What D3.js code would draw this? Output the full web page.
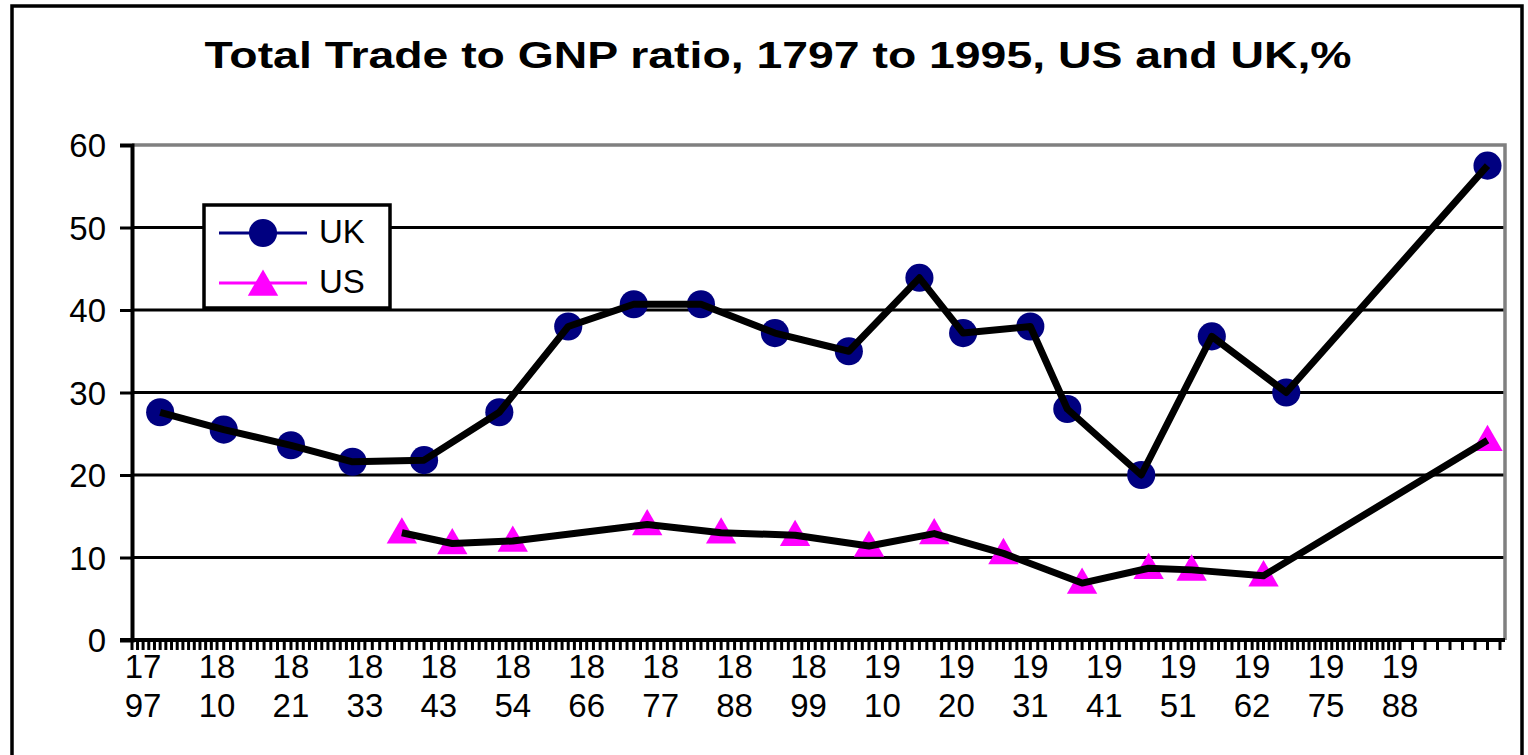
<!DOCTYPE html>
<html>
<head>
<meta charset="utf-8">
<script src="https://cdnjs.cloudflare.com/ajax/libs/d3/7.8.5/d3.min.js"></script>
<style>
  body { margin: 0; background: #fff; }
  svg { display: block; }
  text { font-family: "Liberation Sans", Arial, sans-serif; fill: #000; }
</style>
</head>
<body>
<div id="chart"></div>
<script>
// years that carry a label on the category axis
var tickYears = [1797, 1810, 1821, 1833, 1843, 1854, 1866, 1877, 1888, 1899,
                 1910, 1920, 1931, 1941, 1951, 1962, 1975, 1988];
var yTicks = [0, 10, 20, 30, 40, 50, 60];

// UK total trade / GNP, %
var ukYears  = [1800, 1811, 1821, 1831, 1841, 1852, 1863, 1873, 1883, 1894,
                1905, 1915, 1921, 1931, 1936, 1946, 1956, 1968, 1995];
var ukValues = [27.6, 25.5, 23.6, 21.6, 21.8, 27.6, 38, 40.7, 40.7, 37.2,
                35, 43.9, 37.2, 38, 28, 20, 36.8, 30, 57.5];

// US total trade / GNP, %
var usYears  = [1838, 1845, 1854, 1875, 1886, 1897, 1908, 1917, 1927, 1938,
                1947, 1953, 1964, 1995];
var usValues = [13, 11.7, 12, 14, 13, 12.7, 11.4, 12.9, 10.5, 6.9,
                8.7, 8.5, 7.8, 24.2];

var width = 1528, height = 755;
var margin = {left: 132, top: 145, right: 23, bottom: 115};
var plotW = width - margin.left - margin.right,
    plotH = height - margin.top - margin.bottom;

var svg = d3.select("#chart").append("svg")
    .attr("width", width)
    .attr("height", height);

svg.append("rect").attr("width", width).attr("height", height).attr("fill", "#fff");

// outer frame (bottom edge runs off the picture)
svg.append("rect")
    .attr("x", 12).attr("y", 6)
    .attr("width", 1510).attr("height", 800)
    .attr("fill", "none").attr("stroke", "#000").attr("stroke-width", 3.5);

svg.append("text")
    .attr("x", 778).attr("y", 68)
    .attr("text-anchor", "middle")
    .attr("font-size", 37).attr("font-weight", "bold")
    .attr("textLength", 1147).attr("lengthAdjust", "spacingAndGlyphs")
    .text("Total Trade to GNP ratio, 1797 to 1995, US and UK,%");

// the axis is a category axis, so labelled years sit evenly spaced
var step = plotW / 18.57;
var xDomain = [1795].concat(tickYears, [1996.4]);
var xRange = [0].concat(tickYears.map(function (d, i) { return step * (0.15 + i); }), [plotW]);
var x = d3.scaleLinear().domain(xDomain).range(xRange);
var y = d3.scaleLinear().domain([0, 60]).range([plotH, 0]);

var g = svg.append("g")
    .attr("transform", "translate(" + margin.left + "," + margin.top + ")");

// grid lines
g.selectAll("line.grid")
    .data(yTicks.filter(function (d) { return d > 0 && d < 60; }))
    .enter().append("line")
    .attr("class", "grid")
    .attr("x1", 0).attr("x2", plotW)
    .attr("y1", function (d) { return y(d); })
    .attr("y2", function (d) { return y(d); })
    .attr("stroke", "#000").attr("stroke-width", 3);

// grey plot border top and right
g.append("path")
    .attr("d", "M0," + y(60) + "H" + plotW + "V" + y(0))
    .attr("fill", "none").attr("stroke", "#808080").attr("stroke-width", 3.5);

// y axis
var yAxis = g.append("g").call(d3.axisLeft(y).tickValues(yTicks).tickSize(12).tickPadding(14));
yAxis.select(".domain").attr("stroke-width", 4);
yAxis.selectAll(".tick line").attr("stroke-width", 3);
yAxis.selectAll(".tick text").attr("font-size", 33).attr("dy", "0.36em");

// x axis: a small tick for every year
var xAxis = g.append("g").attr("transform", "translate(0," + plotH + ")");
xAxis.append("line")
    .attr("x1", -12).attr("x2", plotW)
    .attr("stroke", "#000").attr("stroke-width", 4);
xAxis.selectAll("line.minor")
    .data(d3.range(1795, 1997))
    .enter().append("line")
    .attr("class", "minor")
    .attr("x1", function (d) { return x(d); })
    .attr("x2", function (d) { return x(d); })
    .attr("y1", 0).attr("y2", 10)
    .attr("stroke", "#000").attr("stroke-width", 3);

var lbl = xAxis.selectAll("text.lbl")
    .data(tickYears)
    .enter().append("text")
    .attr("class", "lbl")
    .attr("text-anchor", "middle")
    .attr("font-size", 33);
lbl.append("tspan")
    .attr("x", function (d) { return x(d); })
    .attr("y", 38)
    .text(function (d) { return String(d).slice(0, 2); });
lbl.append("tspan")
    .attr("x", function (d) { return x(d); })
    .attr("y", 77)
    .text(function (d) { return String(d).slice(2); });

var uk = ukYears.map(function (d, i) { return {year: d, value: ukValues[i]}; });
var us = usYears.map(function (d, i) { return {year: d, value: usValues[i]}; });

var circle = d3.symbol().type(d3.symbolCircle).size(620);
var triangle = d3.symbol().type(d3.symbolTriangle).size(400);

g.selectAll("path.uk")
    .data(uk)
    .enter().append("path")
    .attr("class", "uk")
    .attr("d", circle)
    .attr("transform", function (d) { return "translate(" + x(d.year) + "," + y(d.value) + ")"; })
    .attr("fill", "#000080");

g.selectAll("path.us")
    .data(us)
    .enter().append("path")
    .attr("class", "us")
    .attr("d", triangle)
    .attr("transform", function (d) { return "translate(" + x(d.year) + "," + (y(d.value) + 2) + ")"; })
    .attr("fill", "#ff00ff");

// thick black series lines are drawn over the markers
var line = d3.line()
    .x(function (d) { return x(d.year); })
    .y(function (d) { return y(d.value); });

[uk, us].forEach(function (series) {
    g.append("path")
        .datum(series)
        .attr("d", line)
        .attr("fill", "none")
        .attr("stroke", "#000")
        .attr("stroke-width", 7)
        .attr("stroke-linejoin", "round");
});

// legend
var legend = svg.append("g").attr("transform", "translate(204,205)");
legend.append("rect")
    .attr("width", 186).attr("height", 103)
    .attr("fill", "#fff").attr("stroke", "#000").attr("stroke-width", 3.5);

var legendItems = [
    {name: "UK", color: "#000080", symbol: circle, y: 28},
    {name: "US", color: "#ff00ff", symbol: triangle, y: 78}
];
legendItems.forEach(function (item) {
    legend.append("line")
        .attr("x1", 15).attr("x2", 103)
        .attr("y1", item.y).attr("y2", item.y)
        .attr("stroke", item.color).attr("stroke-width", 3);
    legend.append("path")
        .attr("d", item.symbol)
        .attr("transform", "translate(59," + (item.y + (item.name == "US" ? 4 : 0)) + ")")
        .attr("fill", item.color);
    legend.append("text")
        .attr("x", 115).attr("y", item.y + 10)
        .attr("font-size", 33)
        .text(item.name);
});
</script>
</body>
</html>
